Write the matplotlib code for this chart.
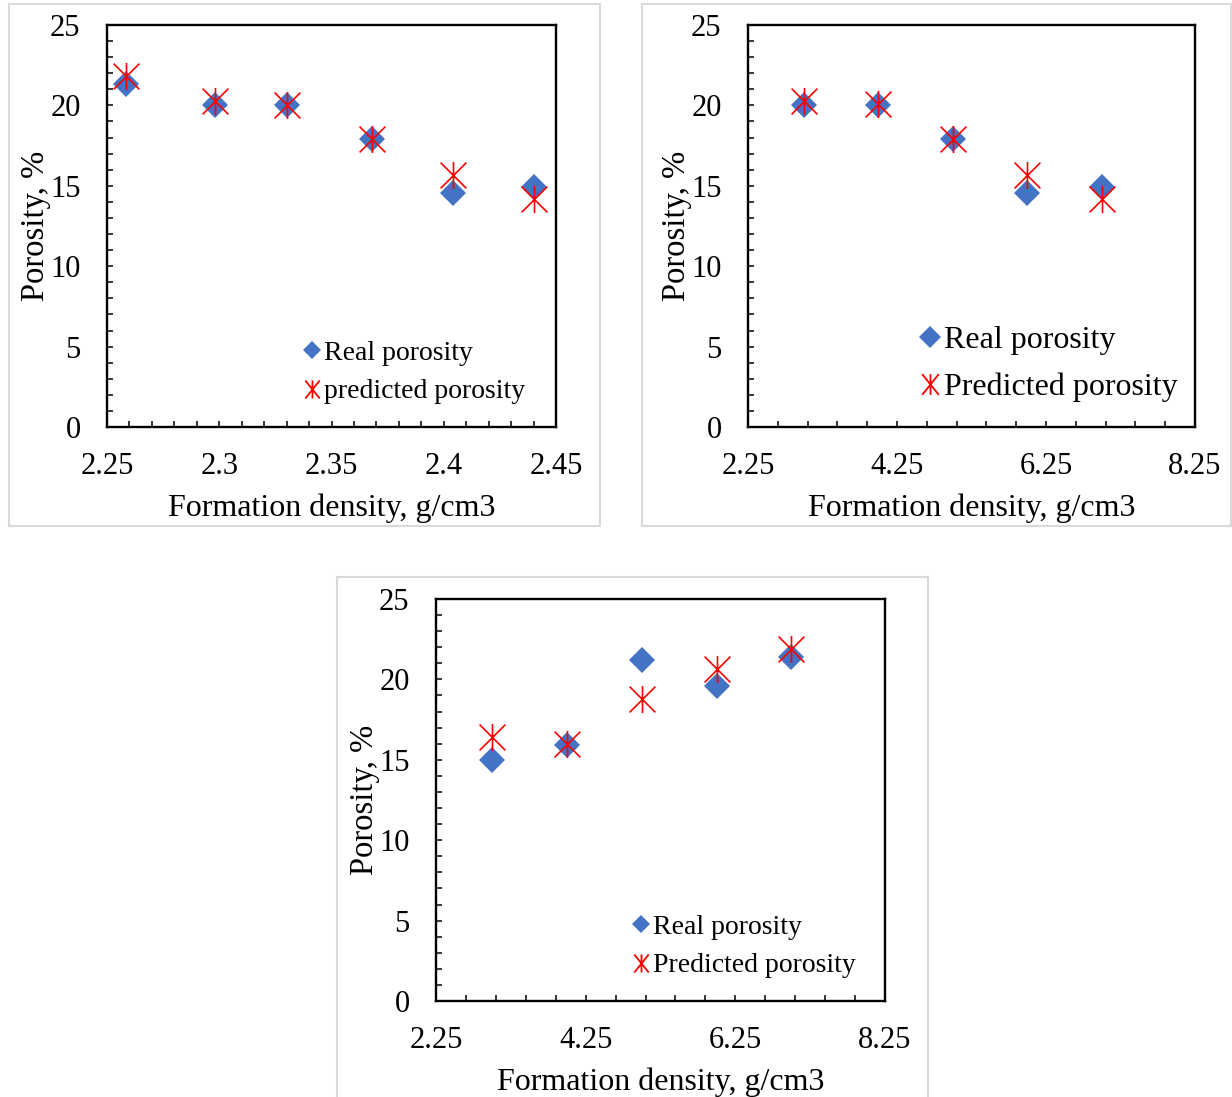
import matplotlib
matplotlib.use("Agg")
import matplotlib.pyplot as plt
from matplotlib.path import Path
from matplotlib.lines import Line2D
from matplotlib.patches import Rectangle

plt.rcParams['font.family'] = ['Liberation Serif', 'DejaVu Serif']

# ---------------- data ----------------
x1 = [2.2585, 2.298, 2.330, 2.368, 2.404, 2.440]
real1 = [21.35, 20.02, 20.02, 17.88, 14.53, 14.93]
pred1 = [21.85, 20.27, 20.02, 17.88, 15.68, 14.15]

x2 = [3, 4, 5, 6, 7]
real2 = [20.02, 20.02, 17.88, 14.53, 14.93]
pred2 = [20.27, 20.10, 17.88, 15.68, 14.15]

x3 = [3, 4, 5, 6, 7]
real3 = [14.96, 15.90, 21.18, 19.60, 21.37]
pred3 = [16.41, 16.00, 18.78, 20.64, 21.90]

xticks1 = [2.25, 2.3, 2.35, 2.4, 2.45]
xticklabels1 = ['2.25', '2.3', '2.35', '2.4', '2.45']
xticks23 = [2.25, 4.25, 6.25, 8.25]
xticklabels23 = ['2.25', '4.25', '6.25', '8.25']
yticks = [0, 5, 10, 15, 20, 25]

xlabel = 'Formation density, g/cm3'
ylabel = 'Porosity, %'
legend1 = ['Real porosity', 'predicted porosity']
legend23 = ['Real porosity', 'Predicted porosity']

BLUE = '#4472C4'
RED = '#FF0000'

star = Path([(-1, -1), (1, 1), (-1, 1), (1, -1), (0, -1.05), (0, 1.05)],
            [Path.MOVETO, Path.LINETO, Path.MOVETO, Path.LINETO, Path.MOVETO, Path.LINETO])
star_leg = Path([(-0.8, -1), (0.8, 1), (-0.8, 1), (0.8, -1), (0, -1), (0, 1)],
                [Path.MOVETO, Path.LINETO, Path.MOVETO, Path.LINETO, Path.MOVETO, Path.LINETO])

W, H = 1232, 1097
fig = plt.figure(figsize=(W / 100, H / 100), dpi=100)


def frame(x0, y0, x1_, y1_):
    r = Rectangle((x0 / W, 1 - y1_ / H), (x1_ - x0) / W, (y1_ - y0) / H,
                  transform=fig.transFigure, fill=False, edgecolor='#D9D9D9',
                  linewidth=1.5, zorder=0)
    fig.patches.append(r)


def panel(rect, xs, real, pred, xlim, xticks, xticklabels, xminor, labels,
          legpos, legfs, legspacing, legms):
    l, r, t, b = rect
    ax = fig.add_axes([l / W, 1 - b / H, (r - l) / W, (b - t) / H])
    ax.plot(xs, real, linestyle='none', marker='D', markersize=13.5,
            color=BLUE, markeredgewidth=0, zorder=3)
    ax.plot(xs, pred, linestyle='none', marker=star, markersize=19.5,
            markeredgecolor=RED, markerfacecolor='none', markeredgewidth=1.2, zorder=4)
    ax.set_xlim(*xlim)
    ax.set_ylim(0, 25)
    ax.set_xticks(xticks)
    ax.set_xticklabels(xticklabels)
    ax.set_yticks(yticks)
    ax.set_xticks(xminor, minor=True)
    ax.set_yticks(range(0, 26), minor=True)
    for s in ax.spines.values():
        s.set_linewidth(1.7)
        s.set_color('black')
    ax.tick_params(which='both', direction='in', length=4.5, width=1.1,
                   color='black', labelsize=22)
    ax.tick_params(axis='x', which='both', top=False, pad=18)
    ax.tick_params(axis='y', which='both', right=False, pad=19)
    ax.set_xlabel(xlabel, fontsize=23)
    ax.set_ylabel(ylabel, fontsize=23.5)
    ax.xaxis.set_label_coords(0.5, -0.166)
    ax.yaxis.set_label_coords(-0.125, 0.5)
    handles = [Line2D([], [], linestyle='none', marker='D', markersize=legms[0],
                      color=BLUE, markeredgewidth=0),
               Line2D([], [], linestyle='none', marker=star_leg, markersize=legms[1],
                      markeredgecolor=RED, markerfacecolor='none', markeredgewidth=1.3)]
    ax.legend(handles, labels, loc='center left', bbox_to_anchor=legpos,
              frameon=False, fontsize=legfs, handlelength=0.6, handletextpad=0.15,
              labelspacing=legspacing, borderpad=0, borderaxespad=0)
    return ax


frame(9, 4, 600, 526)
frame(642, 4, 1231, 526)
frame(337, 577, 928, 1100)

xm1 = [round(2.25 + 0.01 * i, 2) for i in range(21)]
xm23 = [2.25 + 0.4 * i for i in range(16)]

panel((107, 556, 25, 427), x1, real1, pred1, (2.25, 2.45), xticks1, xticklabels1,
      xm1, legend1, (0.437, 0.136), 20, 0.48, (9.5, 13))
panel((748, 1195, 25, 427), x2, real2, pred2, (2.25, 8.25), xticks23, xticklabels23,
      xm23, legend23, (0.385, 0.157), 23, 0.55, (11, 15))
panel((436, 885, 599, 1001), x3, real3, pred3, (2.25, 8.25), xticks23, xticklabels23,
      xm23, legend23, (0.437, 0.136), 20, 0.48, (9.5, 13))

fig.savefig('out.png', dpi=100)
